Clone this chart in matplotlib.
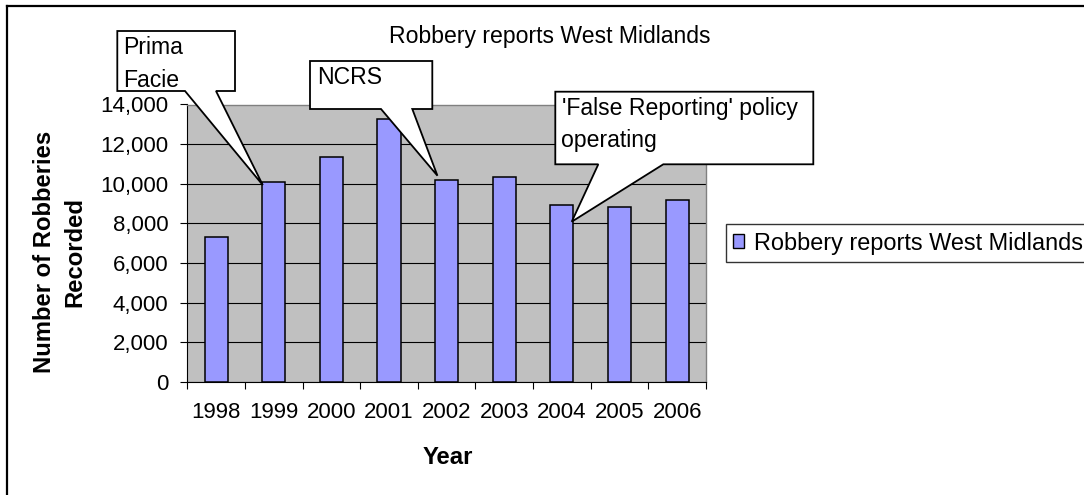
import matplotlib
matplotlib.use("Agg")
import matplotlib.pyplot as plt
from matplotlib.patches import Polygon, Patch
from matplotlib.lines import Line2D
from matplotlib.transforms import IdentityTransform
from matplotlib.ticker import FixedLocator, FuncFormatter

# robbery counts per year
years = [1998, 1999, 2000, 2001, 2002, 2003, 2004, 2005, 2006]
robberies = [7300, 10090, 11350, 13250, 10190, 10350, 8920, 8810, 9180]
series_name = "Robbery reports West Midlands"
y_ticks = [0, 2000, 4000, 6000, 8000, 10000, 12000, 14000]

# annotations: text lines and the year each one points at
note_lines = [["Prima", "Facie"], ["NCRS"], ["'False Reporting' policy", "operating"]]
note_years = [1999, 2002, 2004]

W, H = 1084, 495
FS = 16.6       # titles, callouts
FS_LEG = 16.9   # legend
FS_TICK = 16.0  # axis tick labels
FS_BOLD = 17.2  # axis titles
plt.rcParams["font.family"] = ["Liberation Sans", "DejaVu Sans"]


def fx(x):
    return x / W


def fy(y):
    return 1 - y / H


fig = plt.figure(figsize=(W / 100, H / 100), dpi=100)
fig.patch.set_facecolor("white")
ax = fig.add_axes([fx(187.3), fy(381.7), (706 - 187.3) / W, (381.7 - 104.5) / H])
ax.set_facecolor("#C0C0C0")

ax.bar(years, robberies, width=0.4, color="#9999FF", edgecolor="black",
       linewidth=1.1, label=series_name, zorder=3)

ax.set_xlim(years[0] - 0.5, years[-1] + 0.5)
ax.set_ylim(y_ticks[0], y_ticks[-1])

# y axis
ax.set_yticks(y_ticks)
ax.yaxis.set_major_formatter(FuncFormatter(lambda v, p: f"{int(v):,}"))
ax.tick_params(axis="y", direction="out", length=5, width=0.8, pad=8.5,
               labelsize=FS_TICK, colors="black")
ax.yaxis.grid(True, color="black", linewidth=0.8)
ax.set_axisbelow(True)

# x axis: labels at bar centres, tick marks at category boundaries
ax.set_xticks(years)
ax.set_xticklabels([str(y) for y in years])
ax.xaxis.set_minor_locator(FixedLocator([y - 0.5 for y in years] + [years[-1] + 0.5]))
ax.tick_params(axis="x", which="major", length=0, pad=14.5, labelsize=FS_TICK)
ax.tick_params(axis="x", which="minor", direction="out", length=5, width=0.8)

for side in ["top", "right"]:
    ax.spines[side].set_color("#808080")
    ax.spines[side].set_linewidth(1.0)
for side in ["left", "bottom"]:
    ax.spines[side].set_color("black")
    ax.spines[side].set_linewidth(0.8)

# titles
fig.text(fx(550), fy(37), series_name, ha="center", va="center", fontsize=FS)
fig.text(fx(448), fy(458), "Year", ha="center", va="center",
         fontsize=FS_BOLD, fontweight="bold")
fig.text(fx(60), fy(252), "Number of Robberies\nRecorded", ha="center",
         va="center", rotation=90, fontsize=FS_BOLD, fontweight="bold",
         multialignment="center", linespacing=1.42)

# legend
leg = ax.legend(handles=[Patch(facecolor="#9999FF", edgecolor="black", linewidth=1.0,
                               label=series_name)],
                loc="center left", bbox_to_anchor=(fx(725.7), fy(243)),
                bbox_transform=fig.transFigure, fontsize=FS_LEG, frameon=True,
                fancybox=False, borderaxespad=0, borderpad=0.3,
                handlelength=0.5, handleheight=0.5, handletextpad=0.4)
leg.get_frame().set_edgecolor("black")
leg.get_frame().set_linewidth(1.0)

# callout boxes (pixels, y measured from top) with wedge pointing at a bar
boxes = [(117.3, 31, 235, 91), (310, 61, 432.3, 109), (555.3, 91.7, 813.3, 164.3)]
bases = [(185, 216), (381, 412.3), (598.3, 663.3)]
tip_shift = [(-0.19, -160), (-0.16, 215), (0.17, -840)]
first_baseline = [54.3, 84.3, 115]
text_left = [123, 316.7, 561.5]

for i, lines in enumerate(note_lines):
    x0, y0, x1, y1 = boxes[i]
    b0, b1 = bases[i]
    k = years.index(note_years[i])
    tx, ty = ax.transData.transform((years[k] + tip_shift[i][0],
                                     robberies[k] + tip_shift[i][1]))
    pts = [(x0, H - y0), (x1, H - y0), (x1, H - y1), (b1, H - y1),
           (tx, ty), (b0, H - y1), (x0, H - y1)]
    fig.add_artist(Polygon(pts, closed=True, transform=IdentityTransform(),
                           facecolor="white", edgecolor="black", linewidth=1.3,
                           zorder=10))
    for j, line in enumerate(lines):
        fig.text(fx(text_left[i]), fy(first_baseline[i] + 32.4 * j), line,
                 ha="left", va="baseline", fontsize=FS, zorder=11)

# chart frame
fig.add_artist(Line2D([7, W], [H - 6, H - 6], color="black", linewidth=1.6,
                      transform=IdentityTransform()))
fig.add_artist(Line2D([7, 7], [0, H - 6], color="black", linewidth=1.6,
                      transform=IdentityTransform()))

fig.savefig("out.png", dpi=100)
